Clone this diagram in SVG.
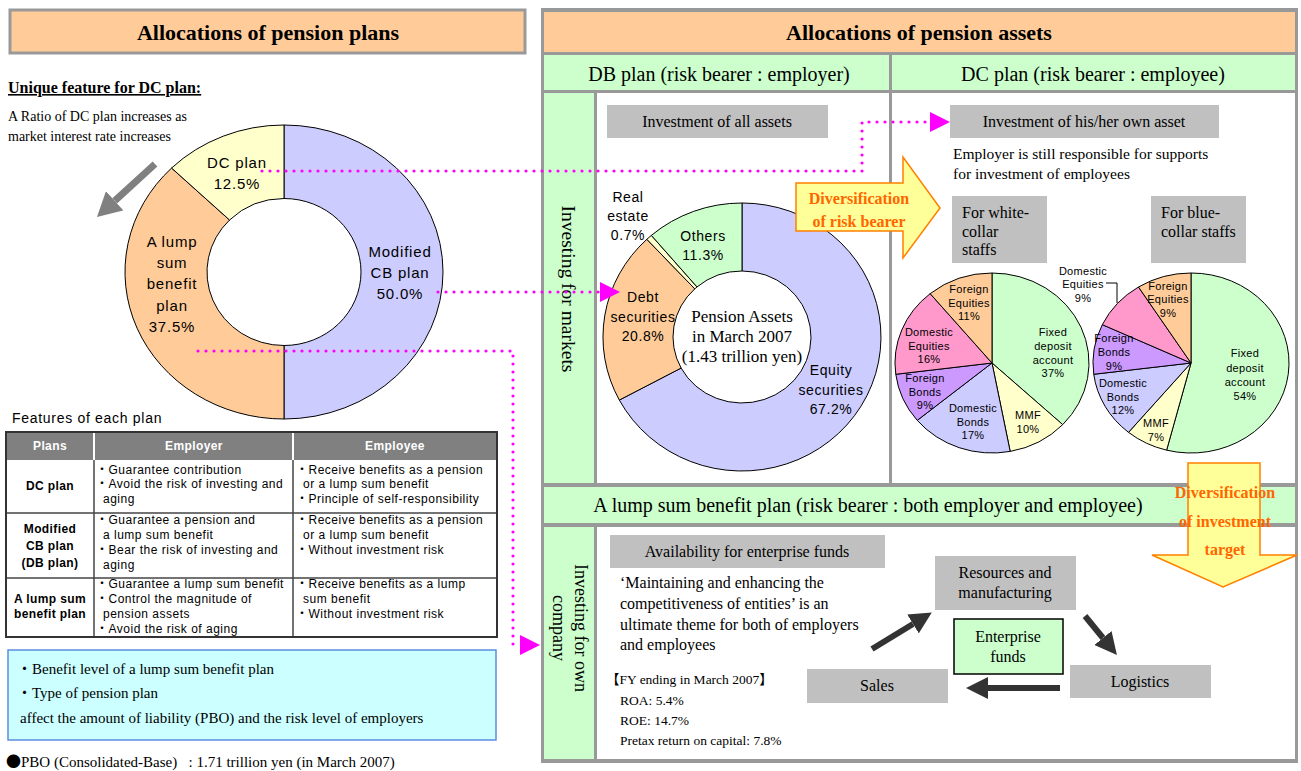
<svg xmlns="http://www.w3.org/2000/svg" width="1301" height="771" viewBox="0 0 1301 771">
  <style>
    .serif { font-family: "Liberation Serif", "Noto Sans CJK JP", serif; fill: #000; }
    .sans { font-family: "Liberation Sans", sans-serif; fill: #000; }
    .bul { font-family: "Noto Sans CJK JP", sans-serif; }
    .title { font-size: 22px; font-weight: bold; text-anchor: middle; }
    .hdr { font-size: 20px; text-anchor: middle; }
    .lbl15 { font-size: 15px; letter-spacing: 0.8px; text-anchor: middle; }
    .lbl14 { font-size: 14px; letter-spacing: 0.6px; text-anchor: middle; }
    .lbl11 { font-size: 11px; letter-spacing: 0.3px; text-anchor: middle; }
    .cell { font-size: 12px; letter-spacing: 0.5px; }
    .cellb { font-size: 12px; font-weight: bold; letter-spacing: 0.4px; text-anchor: middle; }
    .th { font-size: 12px; font-weight: bold; fill: #fff; text-anchor: middle; letter-spacing: 0.4px; }
    .box16 { font-size: 16px; text-anchor: middle; }
    .divtxt { font-size: 16px; font-weight: bold; fill: #FF6600; text-anchor: middle; }
    .graybox { fill: #C0C0C0; }
    .slice { stroke: #000; stroke-width: 1; }
    .dots { fill: none; stroke: #FF00FF; stroke-width: 3.2; stroke-dasharray: 0 8; stroke-linecap: round; }
    .flow { fill: none; stroke: #333; stroke-width: 6; }
    .c-blue { fill: #CCCCFF; }
    .c-orange { fill: #FFCC99; }
    .c-yellow { fill: #FFFFCC; }
    .c-green { fill: #CCFFCC; }
    .c-violet { fill: #CC99FF; }
    .c-pink { fill: #FF99CC; }
  </style>
  <defs>
    <marker id="magHead" markerUnits="userSpaceOnUse" markerWidth="20" markerHeight="20" viewBox="0 0 10 10" refX="0" refY="5" orient="auto">
      <path d="M0,0 L10,5 L0,10 z" fill="#FF00FF"/>
    </marker>
    <marker id="darkHead" markerUnits="userSpaceOnUse" markerWidth="22" markerHeight="22" viewBox="0 0 10 10" refX="0" refY="5" orient="auto">
      <path d="M0,0 L10,5 L0,10 z" fill="#333"/>
    </marker>
    <marker id="grayHead" markerUnits="userSpaceOnUse" markerWidth="24" markerHeight="26" viewBox="0 0 10 10" refX="0" refY="5" orient="auto" preserveAspectRatio="none">
      <path d="M0,0 L10,5 L0,10 z" fill="#808080"/>
    </marker>
  </defs>

  <rect width="1301" height="771" fill="#fff"/>

  <!-- ===== Left column: pension plans ===== -->
  <g id="plans-title">
    <rect x="10" y="10" width="515" height="43" fill="#FFCC99" stroke="#999" stroke-width="3"/>
    <text class="serif title" x="268" y="40">Allocations of pension plans</text>
  </g>

  <g id="dc-feature">
    <text class="serif" x="8" y="93" font-size="16" font-weight="bold" text-decoration="underline">Unique feature for DC plan:</text>
    <text class="serif" x="8" y="121" font-size="14">A Ratio of DC plan increases as</text>
    <text class="serif" x="8" y="141" font-size="14">market interest rate increases</text>
  </g>

  <!-- plan ratio donut -->
  <g id="plan-donut">
    <path class="slice c-blue" d="M284,125 A159,147 0 0 1 284,419 L284,345.5 A77,73.5 0 0 0 284,198.5 Z"/>
    <path class="slice c-orange" d="M284,419 A159,147 0 0 1 171.57,168.06 L229.55,220.03 A77,73.5 0 0 0 284,345.5 Z"/>
    <path class="slice c-yellow" d="M171.57,168.06 A159,147 0 0 1 284,125 L284,198.5 A77,73.5 0 0 0 229.55,220.03 Z"/>
    <text class="sans lbl15" x="237" y="168">DC plan</text>
    <text class="sans lbl15" x="237" y="189">12.5%</text>
    <text class="sans lbl15" x="172" y="247">A lump</text>
    <text class="sans lbl15" x="172" y="268">sum</text>
    <text class="sans lbl15" x="172" y="289">benefit</text>
    <text class="sans lbl15" x="172" y="311">plan</text>
    <text class="sans lbl15" x="172" y="332">37.5%</text>
    <text class="sans lbl15" x="400" y="257">Modified</text>
    <text class="sans lbl15" x="400" y="278">CB plan</text>
    <text class="sans lbl15" x="400" y="299">50.0%</text>
  </g>

  <!-- features table -->
  <g id="features-table">
    <text class="sans" x="12" y="423" font-size="14" letter-spacing="0.7">Features of each plan</text>
    <rect x="6" y="432" width="491" height="28" fill="#808080"/>
    <rect x="6" y="460" width="491" height="177" fill="#fff"/>
    <g stroke="#fff" stroke-width="2">
      <line x1="94" y1="432" x2="94" y2="460"/>
      <line x1="293" y1="432" x2="293" y2="460"/>
    </g>
    <g stroke="#444" stroke-width="1.5">
      <line x1="6" y1="513" x2="497" y2="513"/>
      <line x1="6" y1="578" x2="497" y2="578"/>
      <line x1="94" y1="460" x2="94" y2="637"/>
      <line x1="293" y1="460" x2="293" y2="637"/>
    </g>
    <rect x="6" y="432" width="491" height="205" fill="none" stroke="#333" stroke-width="2"/>
    <text class="sans th" x="50" y="450">Plans</text>
    <text class="sans th" x="194" y="450">Employer</text>
    <text class="sans th" x="395" y="450">Employee</text>

    <text class="sans cellb" x="50" y="490">DC plan</text>
    <text class="sans cell" x="96" y="473.5"><tspan class="bul">・</tspan>Guarantee contribution</text>
    <text class="sans cell" x="96" y="488"><tspan class="bul">・</tspan>Avoid the risk of investing and</text>
    <text class="sans cell" x="103" y="503">aging</text>
    <text class="sans cell" x="296" y="473.5"><tspan class="bul">・</tspan>Receive benefits as a pension</text>
    <text class="sans cell" x="303" y="488">or a lump sum benefit</text>
    <text class="sans cell" x="296" y="503"><tspan class="bul">・</tspan>Principle of self-responsibility</text>

    <text class="sans cellb" x="50" y="532.5">Modified</text>
    <text class="sans cellb" x="50" y="549.5">CB plan</text>
    <text class="sans cellb" x="50" y="566.5">(DB plan)</text>
    <text class="sans cell" x="96" y="523.5"><tspan class="bul">・</tspan>Guarantee a pension and</text>
    <text class="sans cell" x="103" y="538.5">a lump sum benefit</text>
    <text class="sans cell" x="96" y="553.5"><tspan class="bul">・</tspan>Bear the risk of investing and</text>
    <text class="sans cell" x="103" y="568.5">aging</text>
    <text class="sans cell" x="296" y="523.5"><tspan class="bul">・</tspan>Receive benefits as a pension</text>
    <text class="sans cell" x="303" y="538.5">or a lump sum benefit</text>
    <text class="sans cell" x="296" y="553.5"><tspan class="bul">・</tspan>Without investment risk</text>

    <text class="sans cellb" x="50" y="603">A lump sum</text>
    <text class="sans cellb" x="50" y="617.5">benefit plan</text>
    <text class="sans cell" x="96" y="587.5"><tspan class="bul">・</tspan>Guarantee a lump sum benefit</text>
    <text class="sans cell" x="96" y="602.5"><tspan class="bul">・</tspan>Control the magnitude of</text>
    <text class="sans cell" x="103" y="617.5">pension assets</text>
    <text class="sans cell" x="96" y="632.5"><tspan class="bul">・</tspan>Avoid the risk of aging</text>
    <text class="sans cell" x="296" y="587.5"><tspan class="bul">・</tspan>Receive benefits as a lump</text>
    <text class="sans cell" x="303" y="602.5">sum benefit</text>
    <text class="sans cell" x="296" y="617.5"><tspan class="bul">・</tspan>Without investment risk</text>
  </g>

  <g id="liability-note">
    <rect x="8" y="650" width="488" height="90" fill="#CCFFFF" stroke="#5B8FE0" stroke-width="1.5"/>
    <text class="serif" x="17" y="674" font-size="15">・Benefit level of a lump sum benefit plan</text>
    <text class="serif" x="17" y="698" font-size="15">・Type of pension plan</text>
    <text class="serif" x="20" y="723" font-size="15">affect the amount of liability (PBO) and the risk level of employers</text>
  </g>

  <g id="pbo-note">
    <text class="serif" x="6" y="767" font-size="15" xml:space="preserve"><tspan class="bul">●</tspan>PBO (Consolidated-Base)   : 1.71 trillion yen (in March 2007)</text>
  </g>

  <!-- ===== Right column: pension assets frame ===== -->
  <g id="assets-frame">
    <rect x="541" y="8" width="757" height="755" fill="#999"/>
    <rect x="544" y="12" width="751" height="40" fill="#FFCC99"/>
    <rect x="544" y="55" width="345" height="35" fill="#CCFFCC"/>
    <rect x="892" y="55" width="403" height="35" fill="#CCFFCC"/>
    <rect x="544" y="93" width="50" height="390" fill="#CCFFCC"/>
    <rect x="597" y="93" width="292" height="390" fill="#fff"/>
    <rect x="892" y="93" width="403" height="390" fill="#fff"/>
    <rect x="544" y="487" width="751" height="36" fill="#CCFFCC"/>
    <rect x="544" y="527" width="50" height="232" fill="#CCFFCC"/>
    <rect x="597" y="527" width="698" height="232" fill="#fff"/>
    <text class="serif title" x="919" y="40">Allocations of pension assets</text>
    <text class="serif hdr" x="719" y="81">DB plan (risk bearer : employer)</text>
    <text class="serif hdr" x="1093" y="81">DC plan (risk bearer : employee)</text>
    <text class="serif hdr" x="868" y="512">A lump sum benefit plan (risk bearer : both employer and employee)</text>
    <text class="serif" transform="translate(568,289) rotate(90)" y="6.5" font-size="19.5" text-anchor="middle">Investing for markets</text>
    <text class="serif" transform="translate(581,628) rotate(90)" y="6" font-size="18" text-anchor="middle">Investing for own</text>
    <text class="serif" transform="translate(559,628) rotate(90)" y="6" font-size="18" text-anchor="middle">company</text>
  </g>

  <!-- DB plan: all assets -->
  <g id="all-assets">
    <rect class="graybox" x="607" y="105" width="221" height="33"/>
    <text class="serif box16" x="717" y="127">Investment of all assets</text>
  </g>

  <g id="asset-donut">
    <path class="slice c-blue" d="M742,203 A139,134 0 1 1 619.33,400.06 L681.11,368.06 A69,66 0 1 0 742,271 Z"/>
    <path class="slice c-orange" d="M619.33,400.06 A139,134 0 0 1 646.85,239.31 L694.77,288.89 A69,66 0 0 0 681.11,368.06 Z"/>
    <path class="slice c-yellow" d="M646.85,239.31 A139,134 0 0 1 651.37,235.39 L697.01,286.95 A69,66 0 0 0 694.77,288.89 Z"/>
    <path class="slice c-green" d="M651.37,235.39 A139,134 0 0 1 742,203 L742,271 A69,66 0 0 0 697.01,286.95 Z"/>
    <text class="sans lbl14" x="628" y="202">Real</text>
    <text class="sans lbl14" x="628" y="221">estate</text>
    <text class="sans lbl14" x="628" y="240">0.7%</text>
    <text class="sans lbl14" x="703" y="241">Others</text>
    <text class="sans lbl14" x="703" y="260">11.3%</text>
    <text class="sans lbl14" x="643" y="302">Debt</text>
    <text class="sans lbl14" x="643" y="322">securities</text>
    <text class="sans lbl14" x="643" y="341">20.8%</text>
    <text class="sans lbl14" x="831" y="375">Equity</text>
    <text class="sans lbl14" x="831" y="395">securities</text>
    <text class="sans lbl14" x="831" y="414">67.2%</text>
    <text class="serif" x="742" y="322" font-size="17" text-anchor="middle">Pension Assets</text>
    <text class="serif" x="742" y="342" font-size="17" text-anchor="middle">in March 2007</text>
    <text class="serif" x="742" y="362" font-size="17" text-anchor="middle">(1.43 trillion yen)</text>
  </g>

  <!-- DC plan: own assets -->
  <g id="own-assets">
    <rect class="graybox" x="950" y="105" width="269" height="33"/>
    <text class="serif box16" x="1084" y="127">Investment of his/her own asset</text>
    <text class="serif" x="953" y="159" font-size="15.5">Employer is still responsible for supports</text>
    <text class="serif" x="953" y="179" font-size="15.5">for investment of employees</text>
  </g>

  <g id="white-collar">
    <rect class="graybox" x="952" y="196" width="95" height="67"/>
    <text class="serif" x="962" y="218" font-size="16">For white-</text>
    <text class="serif" x="962" y="237" font-size="16">collar</text>
    <text class="serif" x="962" y="255" font-size="16">staffs</text>
  </g>

  <g id="blue-collar">
    <rect class="graybox" x="1151" y="196" width="95" height="67"/>
    <text class="serif" x="1161" y="218" font-size="16">For blue-</text>
    <text class="serif" x="1161" y="237" font-size="16">collar staffs</text>
  </g>

  <g id="white-collar-pie">
    <path class="slice c-green" d="M992,363 L992,273 A97,90 0 0 1 1062.71,424.61 Z"/>
    <path class="slice c-yellow" d="M992,363 L1062.71,424.61 A97,90 0 0 1 1010.18,451.41 Z"/>
    <path class="slice c-blue" d="M992,363 L1010.18,451.41 A97,90 0 0 1 917.26,420.37 Z"/>
    <path class="slice c-violet" d="M992,363 L917.26,420.37 A97,90 0 0 1 895.77,374.28 Z"/>
    <path class="slice c-pink" d="M992,363 L895.77,374.28 A97,90 0 0 1 930.17,293.65 Z"/>
    <path class="slice c-orange" d="M992,363 L930.17,293.65 A97,90 0 0 1 992,273 Z"/>
    <text class="sans lbl11" x="1053" y="336">Fixed</text>
    <text class="sans lbl11" x="1053" y="350">deposit</text>
    <text class="sans lbl11" x="1053" y="364">account</text>
    <text class="sans lbl11" x="1053" y="377">37%</text>
    <text class="sans lbl11" x="1028" y="419">MMF</text>
    <text class="sans lbl11" x="1028" y="433">10%</text>
    <text class="sans lbl11" x="973" y="412">Domestic</text>
    <text class="sans lbl11" x="973" y="426">Bonds</text>
    <text class="sans lbl11" x="973" y="439">17%</text>
    <text class="sans lbl11" x="925" y="382">Foreign</text>
    <text class="sans lbl11" x="925" y="396">Bonds</text>
    <text class="sans lbl11" x="925" y="409">9%</text>
    <text class="sans lbl11" x="929" y="336">Domestic</text>
    <text class="sans lbl11" x="929" y="350">Equities</text>
    <text class="sans lbl11" x="929" y="363">16%</text>
    <text class="sans lbl11" x="969" y="293">Foreign</text>
    <text class="sans lbl11" x="969" y="307">Equities</text>
    <text class="sans lbl11" x="969" y="320">11%</text>
  </g>

  <g id="blue-collar-pie">
    <path class="slice c-green" d="M1191,363 L1191,273 A98,90 0 1 1 1166.63,450.17 Z"/>
    <path class="slice c-yellow" d="M1191,363 L1166.63,450.17 A98,90 0 0 1 1128.53,432.35 Z"/>
    <path class="slice c-blue" d="M1191,363 L1128.53,432.35 A98,90 0 0 1 1093.77,374.28 Z"/>
    <path class="slice c-violet" d="M1191,363 L1093.77,374.28 A98,90 0 0 1 1102.33,324.68 Z"/>
    <path class="slice c-pink" d="M1191,363 L1102.33,324.68 A98,90 0 0 1 1138.49,287.01 Z"/>
    <path class="slice c-orange" d="M1191,363 L1138.49,287.01 A98,90 0 0 1 1191,273 Z"/>
    <text class="sans lbl11" x="1245" y="357">Fixed</text>
    <text class="sans lbl11" x="1245" y="372">deposit</text>
    <text class="sans lbl11" x="1245" y="386">account</text>
    <text class="sans lbl11" x="1245" y="400">54%</text>
    <text class="sans lbl11" x="1156" y="427">MMF</text>
    <text class="sans lbl11" x="1156" y="441">7%</text>
    <text class="sans lbl11" x="1123" y="387">Domestic</text>
    <text class="sans lbl11" x="1123" y="401">Bonds</text>
    <text class="sans lbl11" x="1123" y="414">12%</text>
    <text class="sans lbl11" x="1114" y="342">Foreign</text>
    <text class="sans lbl11" x="1114" y="356">Bonds</text>
    <text class="sans lbl11" x="1114" y="370">9%</text>
    <text class="sans lbl11" x="1168" y="290">Foreign</text>
    <text class="sans lbl11" x="1168" y="303">Equities</text>
    <text class="sans lbl11" x="1168" y="317">9%</text>
    <text class="sans lbl11" x="1083" y="275">Domestic</text>
    <text class="sans lbl11" x="1083" y="288">Equities</text>
    <text class="sans lbl11" x="1083" y="302">9%</text>
    <path d="M1106,283 H1117 V303" fill="none" stroke="#000" stroke-width="1"/>
  </g>

  <!-- lump sum plan: own company -->
  <g id="enterprise-funds-note">
    <rect class="graybox" x="610" y="535" width="275" height="33"/>
    <text class="serif box16" x="747" y="557">Availability for enterprise funds</text>
    <text class="serif" x="620" y="588" font-size="16">‘Maintaining and enhancing the</text>
    <text class="serif" x="620" y="609" font-size="16">competitiveness of entities’ is an</text>
    <text class="serif" x="620" y="630" font-size="16">ultimate theme for both of employers</text>
    <text class="serif" x="620" y="650" font-size="16">and employees</text>
    <text class="serif" x="606" y="684" font-size="13.5">【FY ending in March 2007】</text>
    <text class="serif" x="620" y="705" font-size="13.5">ROA: 5.4%</text>
    <text class="serif" x="620" y="725" font-size="13.5">ROE: 14.7%</text>
    <text class="serif" x="620" y="745" font-size="13.5">Pretax return on capital: 7.8%</text>
  </g>

  <g id="resources">
    <rect class="graybox" x="935" y="556" width="141" height="54"/>
    <text class="serif box16" x="1005" y="578">Resources and</text>
    <text class="serif box16" x="1005" y="598">manufacturing</text>
  </g>

  <g id="enterprise-funds">
    <rect x="954" y="619" width="109" height="55" fill="#CCFFCC" stroke="#000" stroke-width="1.5"/>
    <text class="serif box16" x="1008" y="642">Enterprise</text>
    <text class="serif box16" x="1008" y="662">funds</text>
  </g>

  <g id="logistics">
    <rect class="graybox" x="1070" y="665" width="141" height="33"/>
    <text class="serif box16" x="1140" y="687">Logistics</text>
  </g>

  <g id="sales">
    <rect class="graybox" x="807" y="669" width="141" height="34"/>
    <text class="serif box16" x="877" y="691">Sales</text>
  </g>

  <!-- block arrows -->
  <g id="risk-bearer-arrow">
    <polygon points="796,183 903,183 903,157 940,208 903,258 903,231 796,231" fill="#FFFF99" stroke="#FF8000" stroke-width="1.5"/>
    <text class="serif divtxt" x="859" y="204">Diversification</text>
    <text class="serif divtxt" x="859" y="227">of risk bearer</text>
  </g>

  <g id="investment-target-arrow">
    <polygon points="1188,463 1260,463 1260,555 1297,555 1223,587 1152,555 1188,555" fill="#FFFF99" stroke="#FF8000" stroke-width="1.5"/>
    <text class="serif divtxt" x="1225" y="498">Diversification</text>
    <text class="serif divtxt" x="1225" y="527">of investment</text>
    <text class="serif divtxt" x="1225" y="555">target</text>
  </g>

  <!-- connectors -->
  <g id="connectors">
    <path class="dots" d="M262,171 H862 V122 H930" marker-end="url(#magHead)"/>
    <path class="dots" d="M438,292 H600" marker-end="url(#magHead)"/>
    <path class="dots" d="M198,351 H513 V645 H520" marker-end="url(#magHead)"/>
    <path d="M155,164 L114.7,200.8" fill="none" stroke="#808080" stroke-width="7" marker-end="url(#grayHead)"/>
    <path class="flow" d="M872,649 L913,624" marker-end="url(#darkHead)"/>
    <path class="flow" d="M1085,616 L1103,638" marker-end="url(#darkHead)"/>
    <path class="flow" d="M1060,688 L988,688" marker-end="url(#darkHead)"/>
  </g>
</svg>
